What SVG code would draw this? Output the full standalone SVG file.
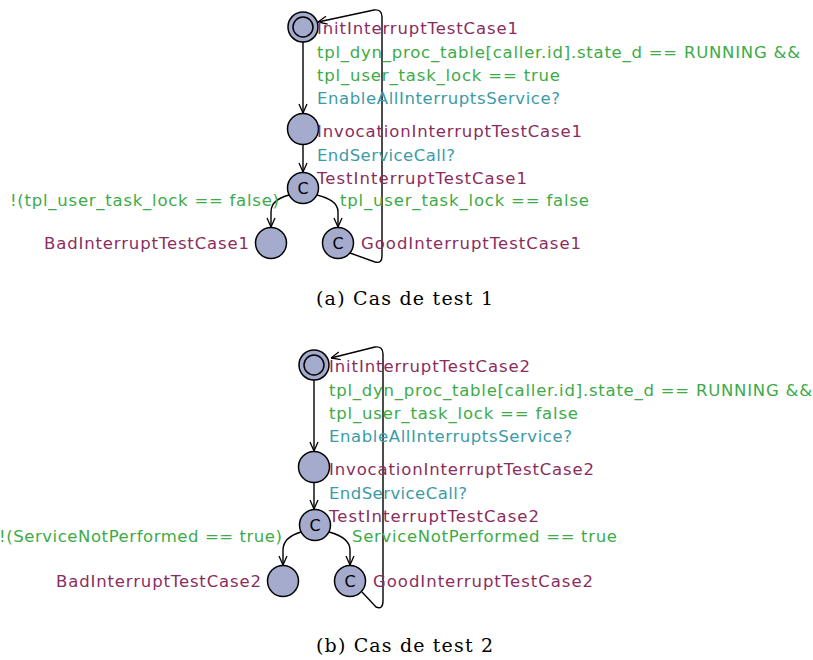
<svg xmlns="http://www.w3.org/2000/svg" width="813" height="660" viewBox="0 0 813 660">
<style>
.loc{fill:#a4abcc;stroke:#000;stroke-width:1.5}
.inner{fill:none;stroke:#000;stroke-width:1.5}
.e{fill:none;stroke:#000;stroke-width:1.4}
.t{font-family:"DejaVu Sans","Liberation Sans",sans-serif;font-size:16.5px}
.p{fill:#8b2d5c}
.g{fill:#3dab47}
.c{fill:#3b9ba6}
.cl{font-family:"DejaVu Sans",sans-serif;font-size:16px;fill:#000}
.cap{font-family:"DejaVu Serif","Liberation Serif",serif;font-size:19px;fill:#000}
</style>
<defs>
<marker id="ah" viewBox="0 0 10 10" refX="10" refY="5" markerWidth="10" markerHeight="10" markerUnits="userSpaceOnUse" orient="auto">
<path d="M1,1 L10,5 L1,9" fill="none" stroke="#000" stroke-width="1.3"/>
</marker>
</defs>
<rect width="813" height="660" fill="#fff"/>

<g id="connectors">
<path class="e" d="M303,42 L303,113" marker-end="url(#ah)"/>
<path class="e" d="M303,145 L303,172" marker-end="url(#ah)"/>
<path class="e" d="M289,195 C279,198 271,202 271,212 L271,227" marker-end="url(#ah)"/>
<path class="e" d="M317,195 C328,198 338,202 338,212 L338,227" marker-end="url(#ah)"/>
<path class="e" d="M350,253 L375,262 Q382,264 382,256 L382,17 Q382,9 374,10 L318,22" marker-end="url(#ah)"/>

<path class="e" d="M314,380 L314,451" marker-end="url(#ah)"/>
<path class="e" d="M314,483 L314,509" marker-end="url(#ah)"/>
<path class="e" d="M301,532 C291,535 283,540 283,550 L283,565" marker-end="url(#ah)"/>
<path class="e" d="M329,532 C340,535 350,540 350,550 L350,565" marker-end="url(#ah)"/>
<path class="e" d="M362,592 L376,607 Q383,610 383,601 L383,354 Q383,346 375,347 L331,358" marker-end="url(#ah)"/>
</g>

<g id="InitInterruptTestCase1">
<circle class="loc" cx="303" cy="27" r="15"/>
<circle class="inner" cx="303" cy="27" r="10"/>
<text class="t p" x="317" y="34" textLength="201">InitInterruptTestCase1</text>
<text class="t g" x="317" y="58" textLength="483">tpl_dyn_proc_table[caller.id].state_d == RUNNING &amp;&amp;</text>
<text class="t g" x="317" y="81" textLength="243">tpl_user_task_lock == true</text>
<text class="t c" x="317" y="104" textLength="243">EnableAllInterruptsService?</text>
</g>
<g id="InvocationInterruptTestCase1">
<circle class="loc" cx="303" cy="129" r="15.5"/>
<text class="t p" x="317" y="137" textLength="265">InvocationInterruptTestCase1</text>
<text class="t c" x="317" y="161" textLength="138">EndServiceCall?</text>
</g>
<g id="TestInterruptTestCase1">
<circle class="loc" cx="303" cy="188" r="15.5"/>
<text class="cl" x="303" y="194" text-anchor="middle">C</text>
<text class="t p" x="317" y="184" textLength="210">TestInterruptTestCase1</text>
<text class="t g" x="10" y="206" textLength="269">!(tpl_user_task_lock == false)</text>
<text class="t g" x="340" y="206" textLength="249">tpl_user_task_lock == false</text>
</g>
<g id="BadInterruptTestCase1">
<circle class="loc" cx="271" cy="243" r="15.5"/>
<text class="t p" x="44" y="249" textLength="205">BadInterruptTestCase1</text>
</g>
<g id="GoodInterruptTestCase1">
<circle class="loc" cx="338" cy="243" r="15.5"/>
<text class="cl" x="338" y="249" text-anchor="middle">C</text>
<text class="t p" x="361" y="249" textLength="220">GoodInterruptTestCase1</text>
</g>
<text class="cap" x="316" y="305" textLength="177">(a) Cas de test 1</text>

<g id="InitInterruptTestCase2">
<circle class="loc" cx="314" cy="365" r="15"/>
<circle class="inner" cx="314" cy="365" r="10"/>
<text class="t p" x="329" y="372" textLength="201">InitInterruptTestCase2</text>
<text class="t g" x="329" y="396" textLength="483">tpl_dyn_proc_table[caller.id].state_d == RUNNING &amp;&amp;</text>
<text class="t g" x="329" y="419" textLength="249">tpl_user_task_lock == false</text>
<text class="t c" x="329" y="442" textLength="243">EnableAllInterruptsService?</text>
</g>
<g id="InvocationInterruptTestCase2">
<circle class="loc" cx="314" cy="467" r="15.5"/>
<text class="t p" x="329" y="475" textLength="265">InvocationInterruptTestCase2</text>
<text class="t c" x="329" y="499" textLength="138">EndServiceCall?</text>
</g>
<g id="TestInterruptTestCase2">
<circle class="loc" cx="315" cy="525" r="15.5"/>
<text class="cl" x="315" y="531" text-anchor="middle">C</text>
<text class="t p" x="329" y="522" textLength="210">TestInterruptTestCase2</text>
<text class="t g" x="-1" y="542" textLength="283">!(ServiceNotPerformed == true)</text>
<text class="t g" x="352" y="542" textLength="265">ServiceNotPerformed == true</text>
</g>
<g id="BadInterruptTestCase2">
<circle class="loc" cx="283" cy="581" r="15.5"/>
<text class="t p" x="56" y="587" textLength="205">BadInterruptTestCase2</text>
</g>
<g id="GoodInterruptTestCase2">
<circle class="loc" cx="350" cy="581" r="15.5"/>
<text class="cl" x="350" y="587" text-anchor="middle">C</text>
<text class="t p" x="373" y="587" textLength="220">GoodInterruptTestCase2</text>
</g>
<text class="cap" x="316" y="652" textLength="177">(b) Cas de test 2</text>
</svg>
